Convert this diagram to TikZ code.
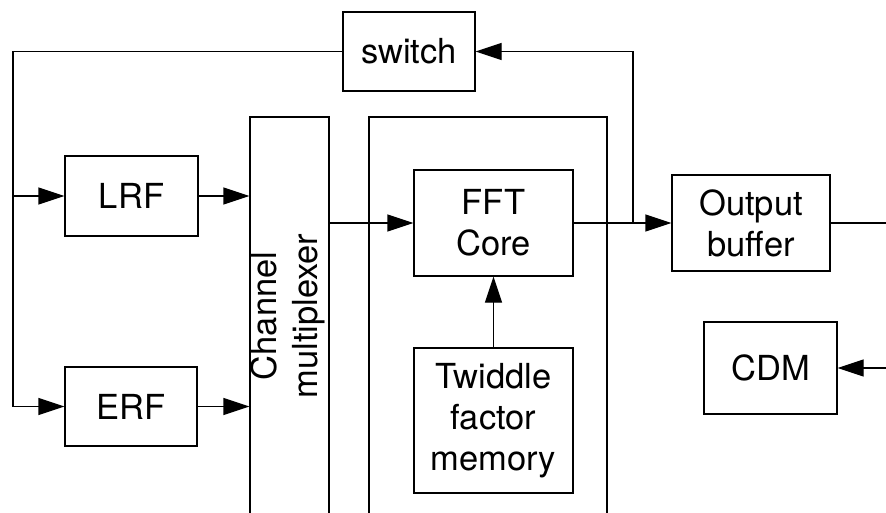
\documentclass[tikz,border=0pt]{standalone}
\usepackage{fontspec}
\setmainfont{TeX Gyre Heros}
\usetikzlibrary{arrows.meta,positioning}
\tikzset{
  block/.style = {draw, line width=1.3pt, fill=white, align=center, inner sep=0pt,
                  font=\fontsize{34.5}{41}\selectfont},
  frame/.style = {draw, line width=1.3pt, inner sep=0pt},
  wire/.style  = {line width=1.3pt},
  vec/.style   = {-{Triangle[length=26pt,width=17pt]}, line width=1.3pt},
}
\begin{document}
\begin{tikzpicture}[x=1pt,y=-1pt]
  \useasboundingbox (0,0) rectangle (886,512);
  \clip (0,0) rectangle (886,512);
  % enclosing frames, open at the bottom
  \node[frame, minimum width=238pt, minimum height=440pt] (fftblk) at (488,337) {};
  \node[frame, minimum width=79pt, minimum height=440pt] (mux) at (289.5,337) {};
  \node[block, draw=none, fill=none, rotate=90] (muxtext) at (288,316) {Channel\\multiplexer};
  % blocks
  \node[block, minimum width=132pt, minimum height=79pt] (switch) at (409,51.5) {switch};
  \node[block, minimum width=133pt, minimum height=80pt] (lrf) at (131.5,196) {LRF};
  \node[block, minimum width=132pt, minimum height=79pt] (erf) at (131,406.5) {ERF};
  \node[block, minimum width=159pt, minimum height=106pt] (fft) at (493.5,223) {FFT\\Core};
  \node[block, minimum width=159pt, minimum height=145pt] (twid) at (493.5,420.5) {Twiddle\\factor\\memory};
  \node[block, minimum width=158pt, minimum height=96pt] (obuf) at (751,223) {Output\\buffer};
  \node[block, minimum width=133pt, minimum height=92pt] (cdm) at (770.5,368) {CDM};
  \coordinate (rail) at (13,196);
  \coordinate (tap) at (633,223);
  \coordinate (outR) at (886,223);
  \coordinate (cdmIn) at (886,368);
  % connections
  \draw[wire] (switch.west) -| (rail |- erf.west);
  \draw[vec] (rail |- lrf.west) -- (lrf.west);
  \draw[vec] (rail |- erf.west) -- (erf.west);
  \draw[vec] (lrf.east) -- (mux.west |- lrf.east);
  \draw[vec] (erf.east) -- (mux.west |- erf.east);
  \draw[vec] (mux.east |- fft.west) -- (fft.west);
  \draw[vec] (twid.north) -- (fft.south);
  \draw[vec] (fft.east) -- (obuf.west);
  \draw[vec] (tap) |- (switch.east);
  \draw[wire] (obuf.east) -- (outR);
  \draw[vec] (cdmIn) -- (cdm.east);
\end{tikzpicture}
\end{document}
